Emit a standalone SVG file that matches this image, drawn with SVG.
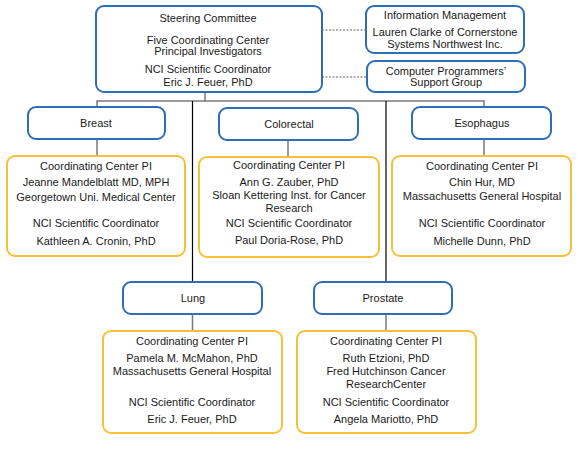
<svg xmlns="http://www.w3.org/2000/svg" width="582" height="463" viewBox="0 0 582 463">
<style>
.b{fill:#fff;stroke:#2f6db5;stroke-width:2}
.g{fill:#fff;stroke:#f8c03a;stroke-width:2}
text{font-family:"Liberation Sans",Arial,sans-serif;font-size:11px;fill:#1a1a1a;text-anchor:middle}
.gl{stroke:#7a7a7a;stroke-width:1.5;fill:none}
.k{stroke:#000;stroke-width:1.2;fill:none}
.d{stroke:#666;stroke-width:1.2;stroke-dasharray:2 1.5;fill:none}
</style>
<rect width="582" height="463" fill="#fff"/>
<g id="connectors">
<path class="gl" d="M97 107V101H484V107M205 92V101"/>
<path class="k" d="M192.5 101V282M386 101V282"/>
<path class="gl" d="M97 139V156M288 140V157M484 139V156M192.5 314V331M386 314V331"/>
<path class="d" d="M322 30H366M322 77H367"/>
</g>
<g id="steering">
<rect class="b" x="96" y="6" width="226" height="86" rx="8"/>
<text x="208" y="22">Steering Committee</text>
<text x="208" y="44">Five Coordinating Center</text>
<text x="208" y="55">Principal Investigators</text>
<text x="208" y="73">NCI Scientific Coordinator</text>
<text x="208" y="86">Eric J. Feuer, PhD</text>
</g>
<g id="info">
<rect class="b" x="366" y="6" width="158" height="47" rx="8"/>
<text x="445" y="19">Information Management</text>
<text x="445" y="36">Lauren Clarke of Cornerstone</text>
<text x="445" y="48">Systems Northwest Inc.</text>
</g>
<g id="programmers">
<rect class="b" x="367" y="61" width="158" height="31" rx="8"/>
<text x="446" y="75">Computer Programmers’</text>
<text x="446" y="86">Support Group</text>
</g>
<g id="breast">
<rect class="b" x="28" y="107" width="137" height="32" rx="8"/>
<text x="96" y="127">Breast</text>
</g>
<g id="breast-pi">
<rect class="g" x="7" y="156" width="178" height="100" rx="8"/>
<text x="96" y="170">Coordinating Center PI</text>
<text x="96" y="186">Jeanne Mandelblatt MD, MPH</text>
<text x="96" y="201">Georgetown Uni. Medical Center</text>
<text x="96" y="227">NCI Scientific Coordinator</text>
<text x="96" y="245">Kathleen A. Cronin, PhD</text>
</g>
<g id="colorectal">
<rect class="b" x="219" y="108" width="139" height="32" rx="8"/>
<text x="289" y="128">Colorectal</text>
</g>
<g id="colorectal-pi">
<rect class="g" x="199" y="157" width="180" height="100" rx="8"/>
<text x="289" y="169">Coordinating Center PI</text>
<text x="289" y="186">Ann G. Zauber, PhD</text>
<text x="289" y="199">Sloan Kettering Inst. for Cancer</text>
<text x="289" y="212">Research</text>
<text x="289" y="227">NCI Scientific Coordinator</text>
<text x="289" y="244">Paul Doria-Rose, PhD</text>
</g>
<g id="esophagus">
<rect class="b" x="412" y="107" width="139" height="32" rx="8"/>
<text x="482" y="127">Esophagus</text>
</g>
<g id="esophagus-pi">
<rect class="g" x="392" y="156" width="179" height="100" rx="8"/>
<text x="482" y="170">Coordinating Center PI</text>
<text x="482" y="186">Chin Hur, MD</text>
<text x="482" y="200">Massachusetts General Hospital</text>
<text x="482" y="227">NCI Scientific Coordinator</text>
<text x="482" y="245">Michelle Dunn, PhD</text>
</g>
<g id="lung">
<rect class="b" x="123" y="282" width="139" height="32" rx="8"/>
<text x="193" y="302">Lung</text>
</g>
<g id="lung-pi">
<rect class="g" x="103" y="331" width="179" height="102" rx="8"/>
<text x="192" y="345">Coordinating Center PI</text>
<text x="192" y="362">Pamela M. McMahon, PhD</text>
<text x="192" y="375">Massachusetts General Hospital</text>
<text x="192" y="406">NCI Scientific Coordinator</text>
<text x="192" y="423">Eric J. Feuer, PhD</text>
</g>
<g id="prostate">
<rect class="b" x="314" y="282" width="138" height="32" rx="8"/>
<text x="383" y="302">Prostate</text>
</g>
<g id="prostate-pi">
<rect class="g" x="297" y="331" width="179" height="102" rx="8"/>
<text x="386" y="345">Coordinating Center PI</text>
<text x="386" y="362">Ruth Etzioni, PhD</text>
<text x="386" y="375">Fred Hutchinson Cancer</text>
<text x="386" y="388">ResearchCenter</text>
<text x="386" y="406">NCI Scientific Coordinator</text>
<text x="386" y="423">Angela Mariotto, PhD</text>
</g>
</svg>
